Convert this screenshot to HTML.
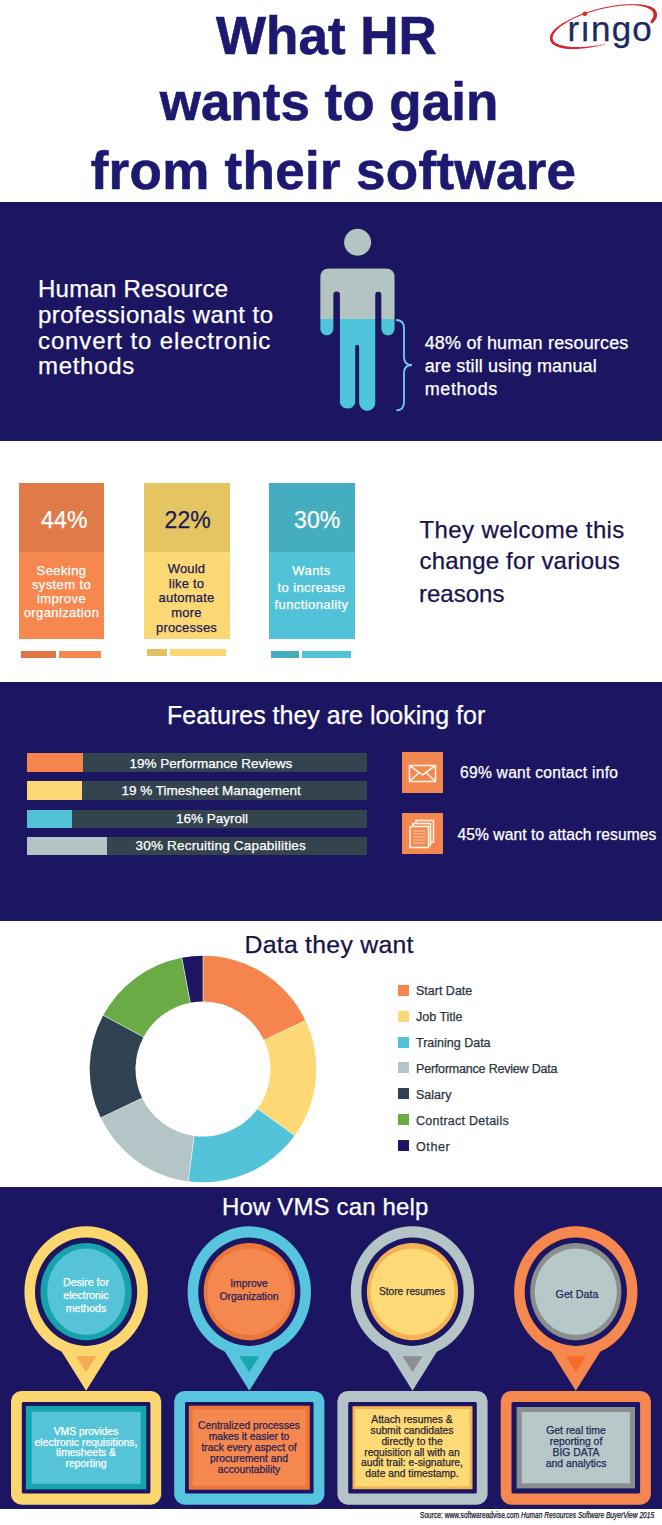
<!DOCTYPE html>
<html><head><meta charset="utf-8">
<style>
*{margin:0;padding:0;box-sizing:border-box}
html,body{width:662px;height:1525px;overflow:hidden;background:#fff}
body{position:relative;font-family:"Liberation Sans",sans-serif}
.a{position:absolute}
.t{position:absolute;white-space:nowrap;line-height:1;-webkit-text-stroke:0.25px currentColor}
.bt{-webkit-text-stroke:0.25px currentColor}
.navy{background:#1c1562}
.title{font-weight:700;font-size:53px;color:#1d1870;-webkit-text-stroke:0.6px #1d1870;left:0;width:662px;text-align:center}
</style></head><body>

<!-- TITLE -->
<div class="t title" style="top:9px;transform:translateX(-4.5px)">What HR</div>
<div class="t title" style="top:75px;transform:translateX(-2px)">wants to gain</div>
<div class="t title" style="top:144px;letter-spacing:0.3px;transform:translateX(2.5px)">from their software</div>

<!-- logo -->
<svg class="a" style="left:540px;top:0" width="122" height="60" viewBox="540 0 122 60">
<g stroke="#d9252a" stroke-linecap="round"><line x1="605.82" y1="43.95" x2="603.10" y2="44.59" stroke-width="0.37"/><line x1="603.10" y1="44.59" x2="600.38" y2="45.18" stroke-width="0.50"/><line x1="600.38" y1="45.18" x2="597.66" y2="45.71" stroke-width="0.64"/><line x1="597.66" y1="45.71" x2="594.97" y2="46.19" stroke-width="0.77"/><line x1="594.97" y1="46.19" x2="592.29" y2="46.62" stroke-width="0.91"/><line x1="592.29" y1="46.62" x2="589.64" y2="47.00" stroke-width="1.04"/><line x1="589.64" y1="47.00" x2="587.03" y2="47.31" stroke-width="1.18"/><line x1="587.03" y1="47.31" x2="584.47" y2="47.57" stroke-width="1.30"/><line x1="584.47" y1="47.57" x2="581.96" y2="47.77" stroke-width="1.42"/><line x1="581.96" y1="47.77" x2="579.50" y2="47.91" stroke-width="1.53"/><line x1="579.50" y1="47.91" x2="577.11" y2="48.00" stroke-width="1.65"/><line x1="577.11" y1="48.00" x2="574.79" y2="48.02" stroke-width="1.77"/><line x1="574.79" y1="48.02" x2="572.55" y2="47.99" stroke-width="1.89"/><line x1="572.55" y1="47.99" x2="570.40" y2="47.89" stroke-width="2.01"/><line x1="570.40" y1="47.89" x2="568.33" y2="47.74" stroke-width="2.12"/><line x1="568.33" y1="47.74" x2="566.36" y2="47.52" stroke-width="2.24"/><line x1="566.36" y1="47.52" x2="564.49" y2="47.25" stroke-width="2.30"/><line x1="564.49" y1="47.25" x2="562.73" y2="46.93" stroke-width="2.31"/><line x1="562.73" y1="46.93" x2="561.08" y2="46.54" stroke-width="2.31"/><line x1="561.08" y1="46.54" x2="559.54" y2="46.10" stroke-width="2.32"/><line x1="559.54" y1="46.10" x2="558.13" y2="45.61" stroke-width="2.33"/><line x1="558.13" y1="45.61" x2="556.84" y2="45.06" stroke-width="2.33"/><line x1="556.84" y1="45.06" x2="555.67" y2="44.46" stroke-width="2.34"/><line x1="555.67" y1="44.46" x2="554.64" y2="43.82" stroke-width="2.34"/><line x1="554.64" y1="43.82" x2="553.73" y2="43.12" stroke-width="2.35"/><line x1="553.73" y1="43.12" x2="552.97" y2="42.38" stroke-width="2.36"/><line x1="552.97" y1="42.38" x2="552.34" y2="41.59" stroke-width="2.36"/><line x1="552.34" y1="41.59" x2="551.85" y2="40.77" stroke-width="2.37"/><line x1="551.85" y1="40.77" x2="551.50" y2="39.90" stroke-width="2.38"/><line x1="551.50" y1="39.90" x2="551.30" y2="39.00" stroke-width="2.38"/><line x1="551.30" y1="39.00" x2="551.23" y2="38.06" stroke-width="2.39"/><line x1="551.23" y1="38.06" x2="551.31" y2="37.09" stroke-width="2.39"/><line x1="551.31" y1="37.09" x2="551.53" y2="36.09" stroke-width="2.40"/><line x1="551.53" y1="36.09" x2="551.90" y2="35.06" stroke-width="2.32"/><line x1="551.90" y1="35.06" x2="552.40" y2="34.01" stroke-width="2.23"/><line x1="552.40" y1="34.01" x2="553.05" y2="32.94" stroke-width="2.14"/><line x1="553.05" y1="32.94" x2="553.83" y2="31.85" stroke-width="2.04"/><line x1="553.83" y1="31.85" x2="554.74" y2="30.74" stroke-width="1.95"/><line x1="554.74" y1="30.74" x2="555.79" y2="29.63" stroke-width="1.86"/><line x1="555.79" y1="29.63" x2="556.97" y2="28.50" stroke-width="1.76"/><line x1="556.97" y1="28.50" x2="558.28" y2="27.37" stroke-width="1.67"/><line x1="558.28" y1="27.37" x2="559.71" y2="26.24" stroke-width="1.58"/><line x1="559.71" y1="26.24" x2="561.26" y2="25.10" stroke-width="1.48"/><line x1="561.26" y1="25.10" x2="562.92" y2="23.97" stroke-width="1.39"/><line x1="562.92" y1="23.97" x2="564.70" y2="22.85" stroke-width="1.30"/><line x1="564.70" y1="22.85" x2="566.58" y2="21.73" stroke-width="1.20"/><line x1="566.58" y1="21.73" x2="568.56" y2="20.63" stroke-width="1.11"/><line x1="568.56" y1="20.63" x2="570.63" y2="19.54" stroke-width="1.02"/><line x1="570.63" y1="19.54" x2="572.80" y2="18.48" stroke-width="1.00"/><line x1="572.80" y1="18.48" x2="575.05" y2="17.43" stroke-width="0.99"/><line x1="575.05" y1="17.43" x2="577.37" y2="16.41" stroke-width="0.99"/><line x1="577.37" y1="16.41" x2="579.77" y2="15.42" stroke-width="0.98"/><line x1="579.77" y1="15.42" x2="582.23" y2="14.45" stroke-width="0.98"/><line x1="582.23" y1="14.45" x2="584.75" y2="13.52" stroke-width="0.98"/><line x1="584.75" y1="13.52" x2="587.32" y2="12.62" stroke-width="0.97"/><line x1="587.32" y1="12.62" x2="589.93" y2="11.76" stroke-width="0.97"/><line x1="589.93" y1="11.76" x2="592.58" y2="10.95" stroke-width="0.96"/><line x1="592.58" y1="10.95" x2="595.26" y2="10.17" stroke-width="0.96"/><line x1="595.26" y1="10.17" x2="597.96" y2="9.44" stroke-width="0.96"/><line x1="597.96" y1="9.44" x2="600.68" y2="8.75" stroke-width="0.95"/><line x1="600.68" y1="8.75" x2="603.40" y2="8.11" stroke-width="0.95"/><line x1="603.40" y1="8.11" x2="606.12" y2="7.52" stroke-width="0.94"/><line x1="606.12" y1="7.52" x2="608.84" y2="6.99" stroke-width="0.94"/><line x1="608.84" y1="6.99" x2="611.53" y2="6.51" stroke-width="0.94"/><line x1="611.53" y1="6.51" x2="614.21" y2="6.08" stroke-width="0.93"/><line x1="614.21" y1="6.08" x2="616.86" y2="5.70" stroke-width="0.93"/><line x1="616.86" y1="5.70" x2="619.47" y2="5.39" stroke-width="0.92"/><line x1="619.47" y1="5.39" x2="622.03" y2="5.13" stroke-width="0.92"/><line x1="622.03" y1="5.13" x2="624.54" y2="4.93" stroke-width="0.92"/><line x1="624.54" y1="4.93" x2="627.00" y2="4.79" stroke-width="0.91"/><line x1="627.00" y1="4.79" x2="629.39" y2="4.70" stroke-width="0.91"/><line x1="629.39" y1="4.70" x2="631.71" y2="4.68" stroke-width="0.90"/><line x1="631.71" y1="4.68" x2="633.95" y2="4.71" stroke-width="0.90"/><line x1="633.95" y1="4.71" x2="636.10" y2="4.81" stroke-width="1.02"/><line x1="636.10" y1="4.81" x2="638.17" y2="4.96" stroke-width="1.17"/><line x1="638.17" y1="4.96" x2="640.14" y2="5.18" stroke-width="1.31"/><line x1="640.14" y1="5.18" x2="642.01" y2="5.45" stroke-width="1.46"/><line x1="642.01" y1="5.45" x2="643.77" y2="5.77" stroke-width="1.60"/><line x1="643.77" y1="5.77" x2="645.42" y2="6.16" stroke-width="1.75"/><line x1="645.42" y1="6.16" x2="646.96" y2="6.60" stroke-width="1.90"/><line x1="646.96" y1="6.60" x2="648.37" y2="7.09" stroke-width="2.04"/><line x1="648.37" y1="7.09" x2="649.66" y2="7.64" stroke-width="2.19"/><line x1="649.66" y1="7.64" x2="650.83" y2="8.24" stroke-width="2.33"/><line x1="650.83" y1="8.24" x2="651.86" y2="8.88" stroke-width="2.48"/><line x1="651.86" y1="8.88" x2="652.77" y2="9.58" stroke-width="2.61"/><line x1="652.77" y1="9.58" x2="653.53" y2="10.32" stroke-width="2.69"/><line x1="653.53" y1="10.32" x2="654.16" y2="11.11" stroke-width="2.77"/><line x1="654.16" y1="11.11" x2="654.65" y2="11.93" stroke-width="2.85"/><line x1="654.65" y1="11.93" x2="655.00" y2="12.80" stroke-width="2.92"/><line x1="655.00" y1="12.80" x2="655.20" y2="13.70" stroke-width="3.00"/><line x1="655.20" y1="13.70" x2="655.27" y2="14.64" stroke-width="3.08"/><line x1="655.27" y1="14.64" x2="655.19" y2="15.61" stroke-width="3.16"/><line x1="655.19" y1="15.61" x2="654.97" y2="16.61" stroke-width="3.24"/><line x1="654.97" y1="16.61" x2="654.60" y2="17.64" stroke-width="3.27"/><line x1="654.60" y1="17.64" x2="654.10" y2="18.69" stroke-width="3.12"/><line x1="654.10" y1="18.69" x2="653.45" y2="19.76" stroke-width="2.98"/><line x1="653.45" y1="19.76" x2="652.67" y2="20.85" stroke-width="2.83"/><line x1="652.67" y1="20.85" x2="651.76" y2="21.96" stroke-width="2.67"/></g>
<circle cx="584.9" cy="13.8" r="2.3" fill="#d9252a"/>
</svg>
<div class="t" style="left:567.5px;top:11px;font-size:35px;letter-spacing:1.1px;color:#1b2a64">r&#305;ngo</div>

<!-- SECTION 1 -->
<div class="a navy" style="left:0;top:202px;width:662px;height:239px"></div>
<div class="t" style="left:38px;top:277px;font-size:24px;letter-spacing:0.25px;color:#fff">Human Resource</div>
<div class="t" style="left:38px;top:302.5px;font-size:24px;letter-spacing:0.48px;color:#fff">professionals want to</div>
<div class="t" style="left:38px;top:328.5px;font-size:24px;letter-spacing:0.88px;color:#fff">convert to electronic</div>
<div class="t" style="left:38px;top:354px;font-size:24px;letter-spacing:0.7px;color:#fff">methods</div>
<svg class="a" style="left:0;top:0" width="662" height="441" viewBox="0 0 662 441">
<defs><clipPath id="ctop"><rect x="0" y="0" width="662" height="319"/></clipPath>
<clipPath id="cbot"><rect x="0" y="319" width="662" height="200"/></clipPath></defs>
<g id="person">
<circle cx="357.6" cy="242.3" r="13.5"/>
<path d="M320.3,277.6 Q320.3,268.6 329.3,268.6 L385.6,268.6 Q394.6,268.6 394.6,277.6 L394.6,328.8 A6.65,6.65 0 0 1 381.3,328.8 L381.3,294.7 A3,3 0 0 0 375.3,294.7 L375.3,402.9 A8.1,8.1 0 0 1 359.1,402.9 L359.1,346.6 A1.9,1.9 0 0 0 355.3,346.6 L355.3,402.9 A8.1,8.1 0 0 1 339.9,402.9 L339.9,294.7 A3.25,3.25 0 0 0 333.4,294.7 L333.4,328.8 A6.55,6.55 0 0 1 320.3,328.8 Z"/>
</g>
<use href="#person" fill="#b4c4c3" clip-path="url(#ctop)"/>
<use href="#person" fill="#4ec5da" clip-path="url(#cbot)"/>
<path d="M396,320 Q404,320 404,328 L404,357 Q404,365 412,365 Q404,365 404,373 L404,402 Q404,410.4 396.3,410.4" fill="none" stroke="#70cdf0" stroke-width="1.8"/>
</svg>
<div class="t" style="left:424.7px;top:333.5px;font-size:18px;letter-spacing:0.17px;color:#fff">48% of human resources</div>
<div class="t" style="left:424.7px;top:356.5px;font-size:18px;letter-spacing:0.14px;color:#fff">are still using manual</div>
<div class="t" style="left:424.7px;top:380.4px;font-size:18px;letter-spacing:0.6px;color:#fff">methods</div>

<!-- SECTION 2 cards -->
<div class="a" style="left:19px;top:483px;width:85px;height:69px;background:#e07a48"></div>
<div class="a" style="left:19px;top:552px;width:85px;height:87px;background:#f5874f"></div>
<div class="a" style="left:21px;top:651px;width:35px;height:7px;background:#df7646"></div>
<div class="a" style="left:59px;top:651px;width:42px;height:7px;background:#f5874f"></div>
<div class="a" style="left:143.5px;top:483px;width:86px;height:69px;background:#e5c462"></div>
<div class="a" style="left:143.5px;top:552px;width:86px;height:87px;background:#fcd874"></div>
<div class="a" style="left:146.5px;top:649px;width:20.5px;height:7px;background:#e1c060"></div>
<div class="a" style="left:169.5px;top:649px;width:56.5px;height:7px;background:#fcd874"></div>
<div class="a" style="left:268.5px;top:483px;width:86px;height:69px;background:#44aec0"></div>
<div class="a" style="left:268.5px;top:552px;width:86px;height:87px;background:#52c2d8"></div>
<div class="a" style="left:271px;top:651px;width:27.5px;height:7px;background:#44aec0"></div>
<div class="a" style="left:301.5px;top:651px;width:49.5px;height:7px;background:#52c2d8"></div>

<div class="t" style="left:41px;top:509.4px;font-size:23px;letter-spacing:0.2px;color:#fff">44%</div>
<div class="t" style="left:164.5px;top:509.4px;font-size:23px;letter-spacing:0.1px;color:#1c1a52">22%</div>
<div class="t" style="left:294px;top:509.4px;font-size:23px;letter-spacing:0.1px;color:#fff">30%</div>

<div class="a bt" style="left:19px;top:563.5px;width:85px;text-align:center;font-size:13px;letter-spacing:0.4px;line-height:14.1px;color:#fff">Seeking<br>system to<br>improve<br>organization</div>
<div class="a bt" style="left:143.5px;top:562px;width:86px;text-align:center;font-size:13px;letter-spacing:0.2px;line-height:14.7px;color:#1c1a52">Would<br>like to<br>automate<br>more<br>processes</div>
<div class="a bt" style="left:268.5px;top:562px;width:86px;text-align:center;font-size:13px;letter-spacing:0.4px;line-height:17px;color:#fff">Wants<br>to increase<br>functionality</div>

<div class="t" style="left:419.5px;top:517.7px;font-size:24px;letter-spacing:0.38px;color:#18134c">They welcome this</div>
<div class="t" style="left:419.5px;top:549px;font-size:24px;letter-spacing:0.17px;color:#18134c">change for various</div>
<div class="t" style="left:419px;top:581.5px;font-size:24px;color:#18134c">reasons</div>

<!-- SECTION 3 -->
<div class="a navy" style="left:0;top:682px;width:662px;height:239px"></div>
<div class="t" style="left:167px;top:702.5px;font-size:25px;color:#fff">Features they are looking for</div>
<div class="a" style="left:27px;top:753px;width:339.5px;height:19px;background:#33444f"></div>
<div class="a" style="left:27px;top:753px;width:55.5px;height:19px;background:#f5854d"></div>
<div class="a" style="left:27px;top:780.5px;width:339.5px;height:19px;background:#33444f"></div>
<div class="a" style="left:27px;top:780.5px;width:55px;height:19px;background:#fdd774"></div>
<div class="a" style="left:27px;top:809.5px;width:339.5px;height:18.5px;background:#33444f"></div>
<div class="a" style="left:27px;top:809.5px;width:45px;height:18.5px;background:#52c1d8"></div>
<div class="a" style="left:27px;top:837px;width:339.5px;height:18px;background:#33444f"></div>
<div class="a" style="left:27px;top:837px;width:80px;height:18px;background:#b4c4c5"></div>
<div class="t" style="left:129.5px;top:757px;font-size:13.5px;color:#fff">19% Performance Reviews</div>
<div class="t" style="left:121.5px;top:784px;font-size:13.5px;color:#fff">19 % Timesheet Management</div>
<div class="t" style="left:176px;top:812px;font-size:13.5px;color:#fff">16% Payroll</div>
<div class="t" style="left:135.5px;top:839px;font-size:13.5px;letter-spacing:0.2px;color:#fff">30% Recruiting Capabilities</div>
<div class="a" style="left:402px;top:752px;width:41px;height:41px;background:#f2884f"></div>
<div class="a" style="left:402px;top:813px;width:41px;height:41px;background:#f2884f"></div>
<svg class="a" style="left:402px;top:752px" width="41" height="102" viewBox="402 752 41 102">
<g fill="none" stroke="#fff3e6" stroke-width="1.6">
<rect x="409.5" y="765.5" width="26" height="16"/>
<path d="M409.5,765.5 L422.5,775 L435.5,765.5 M409.5,781.5 L418.5,773 M435.5,781.5 L426.5,773"/>
<rect x="416" y="820.5" width="17.5" height="21.5" fill="#f2884f"/>
<rect x="413" y="823.5" width="17.5" height="21.5" fill="#f2884f"/>
<rect x="410" y="826.5" width="18.5" height="21" fill="#f2884f"/>
</g>
<g stroke="#fff3e6" stroke-width="0.8" opacity="0.8">
<path d="M413,831 H425.5 M413,834 H425.5 M413,837 H425.5 M413,840 H425.5 M413,843 H425.5"/>
</g>
</svg>
<div class="t" style="left:460px;top:765.4px;font-size:15.6px;letter-spacing:0.27px;color:#fff">69% want contact info</div>
<div class="t" style="left:457.5px;top:827px;font-size:15.6px;letter-spacing:0.08px;color:#fff">45% want to attach resumes</div>

<!-- SECTION 4 donut -->
<div class="t" style="left:244.5px;top:932.8px;font-size:24.8px;letter-spacing:0.27px;color:#17124a">Data they want</div>
<svg class="a" style="left:80px;top:945px" width="250" height="250" viewBox="80 945 250 250">
<path d="M181.77,957.71 A113.3,113.3 0 0 1 203.00,955.70 L203.00,1001.50 A67.5,67.5 0 0 0 190.35,1002.70 Z" fill="#1c1562"/><path d="M203.00,955.70 A113.3,113.3 0 0 1 305.43,1020.58 L264.03,1040.15 A67.5,67.5 0 0 0 203.00,1001.50 Z" fill="#f5854d"/><path d="M305.43,1020.58 A113.3,113.3 0 0 1 294.66,1135.60 L257.61,1108.68 A67.5,67.5 0 0 0 264.03,1040.15 Z" fill="#fdd874"/><path d="M294.66,1135.60 A113.3,113.3 0 0 1 188.21,1181.33 L194.19,1135.92 A67.5,67.5 0 0 0 257.61,1108.68 Z" fill="#53c3d9"/><path d="M188.21,1181.33 A113.3,113.3 0 0 1 100.74,1117.78 L142.08,1098.06 A67.5,67.5 0 0 0 194.19,1135.92 Z" fill="#b3c5c6"/><path d="M100.74,1117.78 A113.3,113.3 0 0 1 103.24,1015.29 L143.57,1037.00 A67.5,67.5 0 0 0 142.08,1098.06 Z" fill="#2f4252"/><path d="M103.24,1015.29 A113.3,113.3 0 0 1 181.77,957.71 L190.35,1002.70 A67.5,67.5 0 0 0 143.57,1037.00 Z" fill="#6aab45"/>
<line x1="181.58" y1="956.72" x2="190.54" y2="1003.68" stroke="#fff" stroke-width="0.8" opacity="0.7"/><line x1="203.00" y1="954.70" x2="203.00" y2="1002.50" stroke="#fff" stroke-width="0.8" opacity="0.7"/><line x1="306.34" y1="1020.15" x2="263.12" y2="1040.58" stroke="#fff" stroke-width="0.8" opacity="0.7"/><line x1="295.47" y1="1136.18" x2="256.80" y2="1108.09" stroke="#fff" stroke-width="0.8" opacity="0.7"/><line x1="188.08" y1="1182.32" x2="194.32" y2="1134.93" stroke="#fff" stroke-width="0.8" opacity="0.7"/><line x1="99.83" y1="1118.21" x2="142.98" y2="1097.63" stroke="#fff" stroke-width="0.8" opacity="0.7"/><line x1="102.36" y1="1014.81" x2="144.45" y2="1037.47" stroke="#fff" stroke-width="0.8" opacity="0.7"/>
</svg>
<div class="a" style="left:398px;top:984.7px;width:11.3px;height:11px;background:#f5854d"></div>
<div class="t" style="left:416px;top:985.2px;font-size:12.5px;color:#2d3441">Start Date</div>
<div class="a" style="left:398px;top:1010.6px;width:11.3px;height:11px;background:#fdd874"></div>
<div class="t" style="left:416px;top:1011.1px;font-size:12.5px;color:#2d3441">Job Title</div>
<div class="a" style="left:398px;top:1036.5px;width:11.3px;height:11px;background:#53c3d9"></div>
<div class="t" style="left:416px;top:1037.0px;font-size:12.5px;color:#2d3441">Training Data</div>
<div class="a" style="left:398px;top:1062.4px;width:11.3px;height:11px;background:#b3c5c6"></div>
<div class="t" style="left:416px;top:1062.9px;font-size:12.5px;color:#2d3441;letter-spacing:-0.2px">Performance Review Data</div>
<div class="a" style="left:398px;top:1088.3px;width:11.3px;height:11px;background:#2f4252"></div>
<div class="t" style="left:416px;top:1088.8px;font-size:12.5px;color:#2d3441">Salary</div>
<div class="a" style="left:398px;top:1114.2px;width:11.3px;height:11px;background:#6aab45"></div>
<div class="t" style="left:416px;top:1114.7px;font-size:12.5px;color:#2d3441;letter-spacing:0.25px">Contract Details</div>
<div class="a" style="left:398px;top:1140.1px;width:11.3px;height:11px;background:#1c1562"></div>
<div class="t" style="left:416px;top:1140.6px;font-size:12.5px;color:#2d3441;letter-spacing:0.6px">Other</div>

<!-- SECTION 5 -->
<!--S5-->
<div class="a navy" style="left:0;top:1187px;width:662px;height:322px"></div>
<div class="t" style="left:222px;top:1195px;font-size:24px;letter-spacing:0.15px;color:#fff">How VMS can help</div>
<svg class="a" style="left:0;top:1187px" width="662" height="322" viewBox="0 1187 662 322">
<ellipse cx="86.1" cy="1291.7" rx="61.7" ry="65.4" fill="#fcd66f"/>
<path d="M56.099999999999994,1341.7 Q59.099999999999994,1347.7 61.099999999999994,1350.7 L86.1,1390.8 L111.1,1350.7 Q113.1,1347.7 116.1,1341.7 Z" fill="#fcd66f"/>
<ellipse cx="86.1" cy="1291.7" rx="51.1" ry="54.2" fill="#1c1562"/>
<ellipse cx="86.1" cy="1291.7" rx="45.6" ry="48.6" fill="#17a3ac"/>
<ellipse cx="86.1" cy="1291.7" rx="39.0" ry="43.3" fill="#55c4d8"/>
<path d="M76.1,1356.3 L96.1,1356.3 L86.1,1372.1 Z" fill="#f5aa55"/>
<rect x="11.0" y="1391" width="150.2" height="113.7" rx="10.5" fill="#fcd66f"/>
<rect x="21.8" y="1401.9" width="128.6" height="91.6" rx="1.5" fill="#1c1562"/>
<rect x="25.9" y="1406.0" width="120.4" height="83.4" fill="#17a3ac"/>
<rect x="31.6" y="1411.7" width="109.0" height="72.0" fill="#55c4d8"/>
<ellipse cx="249.3" cy="1291.7" rx="61.7" ry="65.4" fill="#56c5dd"/>
<path d="M219.3,1341.7 Q222.3,1347.7 224.3,1350.7 L249.3,1390.8 L274.3,1350.7 Q276.3,1347.7 279.3,1341.7 Z" fill="#56c5dd"/>
<ellipse cx="249.3" cy="1291.7" rx="51.1" ry="54.2" fill="#1c1562"/>
<ellipse cx="249.3" cy="1291.7" rx="45.6" ry="48.6" fill="#ec7638"/>
<ellipse cx="249.3" cy="1291.7" rx="42.2" ry="43.3" fill="#f4884f"/>
<path d="M239.3,1356.3 L259.3,1356.3 L249.3,1372.1 Z" fill="#17a6ab"/>
<rect x="174.2" y="1391" width="150.2" height="113.7" rx="10.5" fill="#56c5dd"/>
<rect x="185.0" y="1401.9" width="128.6" height="91.6" rx="1.5" fill="#1c1562"/>
<rect x="188.8" y="1405.7" width="121.0" height="84.0" fill="#ec7638"/>
<rect x="192.7" y="1409.6" width="113.2" height="76.2" fill="#f4884f"/>
<ellipse cx="412.5" cy="1291.7" rx="61.7" ry="65.4" fill="#b5c5c7"/>
<path d="M382.5,1341.7 Q385.5,1347.7 387.5,1350.7 L412.5,1390.8 L437.5,1350.7 Q439.5,1347.7 442.5,1341.7 Z" fill="#b5c5c7"/>
<ellipse cx="412.5" cy="1291.7" rx="51.1" ry="54.2" fill="#1c1562"/>
<ellipse cx="412.5" cy="1291.7" rx="45.6" ry="48.6" fill="#f4b252"/>
<ellipse cx="412.5" cy="1291.7" rx="42.2" ry="43.3" fill="#fdda76"/>
<path d="M402.5,1356.3 L422.5,1356.3 L412.5,1372.1 Z" fill="#8b8f8f"/>
<rect x="337.4" y="1391" width="150.2" height="113.7" rx="10.5" fill="#b5c5c7"/>
<rect x="348.2" y="1401.9" width="128.6" height="91.6" rx="1.5" fill="#1c1562"/>
<rect x="352.5" y="1406.2" width="120.0" height="83.0" fill="#f4b252"/>
<rect x="355.3" y="1409.0" width="114.4" height="77.4" fill="#fdda76"/>
<ellipse cx="575.8" cy="1291.7" rx="61.7" ry="65.4" fill="#f5874f"/>
<path d="M545.8,1341.7 Q548.8,1347.7 550.8,1350.7 L575.8,1390.8 L600.8,1350.7 Q602.8,1347.7 605.8,1341.7 Z" fill="#f5874f"/>
<ellipse cx="575.8" cy="1291.7" rx="51.1" ry="54.2" fill="#1c1562"/>
<ellipse cx="575.8" cy="1291.7" rx="45.6" ry="48.6" fill="#8a8e8e"/>
<ellipse cx="575.8" cy="1291.7" rx="41.1" ry="43.3" fill="#b7c8c8"/>
<path d="M565.8,1356.3 L585.8,1356.3 L575.8,1372.1 Z" fill="#f26d2c"/>
<rect x="500.7" y="1391" width="150.2" height="113.7" rx="10.5" fill="#f5874f"/>
<rect x="511.5" y="1401.9" width="128.6" height="91.6" rx="1.5" fill="#1c1562"/>
<rect x="516.6" y="1407.0" width="118.4" height="81.4" fill="#8a8e8e"/>
<rect x="521.7" y="1412.1" width="108.2" height="71.2" fill="#b7c8c8"/>
</svg>
<div class="a bt" style="left:36px;top:1275.5px;width:100px;text-align:center;font-size:10.6px;line-height:13.4px;color:#fff">Desire for<br>electronic<br>methods</div>
<div class="a bt" style="left:199px;top:1277.2px;width:100px;text-align:center;font-size:10.4px;line-height:13.3px;color:#2a1f55">Improve<br>Organization</div>
<div class="a bt" style="left:362px;top:1284.8px;width:100px;text-align:center;font-size:10.2px;line-height:13px;color:#2b2833">Store resumes</div>
<div class="a bt" style="left:527px;top:1288px;width:100px;text-align:center;font-size:10.7px;line-height:13px;color:#1f2a5a">Get Data</div>
<div class="a bt" style="left:11px;top:1426.8px;width:150px;text-align:center;font-size:10.4px;line-height:10.75px;color:#fff">VMS provides<br>electronic requisitions,<br>timesheets &amp;<br>reporting</div>
<div class="a bt" style="left:174px;top:1420px;width:150px;text-align:center;font-size:10.3px;line-height:11px;color:#2a1f55">Centralized processes<br>makes it easier to<br>track every aspect of<br>procurement and<br>accountability</div>
<div class="a bt" style="left:337px;top:1415.3px;width:150px;text-align:center;font-size:10.3px;line-height:10.8px;color:#2b2833">Attach resumes &amp;<br>submit candidates<br>directly to the<br>requisition all with an<br>audit trail: e-signature,<br>date and timestamp.</div>
<div class="a bt" style="left:501px;top:1424.6px;width:150px;text-align:center;font-size:10.4px;line-height:11.1px;color:#1f2a5a">Get real time<br>reporting of<br>BIG DATA<br>and analytics</div>
<div class="t" style="left:420px;top:1510.5px;font-size:8.3px;transform:scaleX(0.8);transform-origin:0 0;color:#1a1a2a">Source: www.softwareadvise.com <i>Human Resources Software BuyerView 2015</i></div>
<!--/S5-->

</body></html>
